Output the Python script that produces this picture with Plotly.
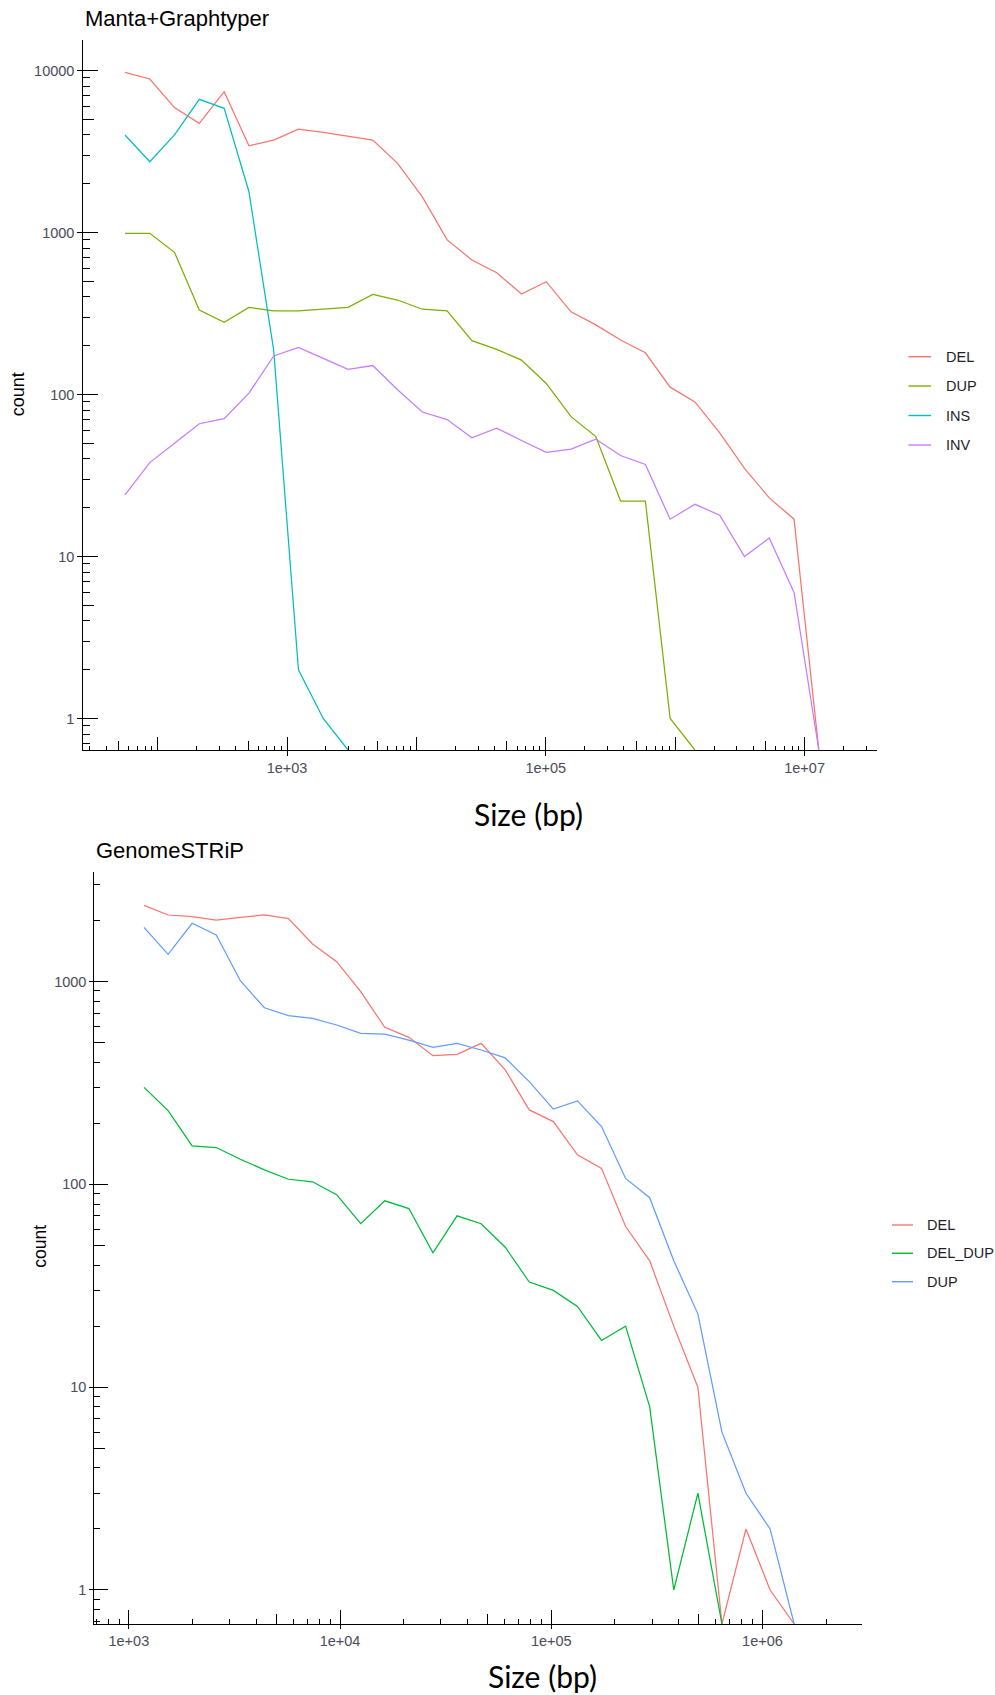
import math
import plotly.graph_objects as go

W, H = 995, 1695

# ---------------- Manta+Graphtyper : SV counts per log-spaced size bin ----------------
mg_size = [56, 87, 135, 210, 327, 508, 789, 1226, 1905, 2961, 4603, 7154, 11117, 17280,
           26853, 41735, 64863, 100810, 156675, 243500, 378440, 588160, 914100, 1420650,
           2208000, 3431000, 5333000, 8288000, 12880000]
mg_del = [9750, 8860, 5900, 4720, 7400, 3430, 3720, 4340, 4150, 3940, 3720, 2670, 1660, 900,
          677, 565, 417, 497, 324, 269, 217, 181, 111, 90, 58, 35, 23, 17, 0]
mg_dup = [989, 989, 755, 332, 279, 345, 328, 328, 337, 345, 415, 383, 336, 328, 215, 190,
          163, 117, 73, 55, 22, 22, 1, 0]
mg_ins = [4000, 2735, 4000, 6640, 5845, 1786, 188, 2, 1, 0]
mg_inv = [24, 38, 50, 66, 71, 102, 173, 195, 167, 143, 151, 107, 78, 70, 54, 62, 52, 44, 46,
          53, 42, 37, 17, 21, 18, 10, 13, 6, 0]

# ---------------- GenomeSTRiP ----------------
gs_size = [1180, 1534, 1994, 2593, 3372, 4383, 5698, 7409, 9636, 12528, 16287, 21177, 27540,
           35810, 46560, 60540, 78700, 102330, 133070, 173000, 224950, 292500, 380300, 494600,
           643000, 835900, 1087000, 1413000]
gs_del = [2378, 2130, 2089, 2012, 2076, 2130, 2043, 1532, 1253, 892, 595, 531, 431, 438, 496,
          367, 233, 204, 140, 120, 62, 42, 20, 10, 0, 2, 1, 0]
gs_del_dup = [301, 231, 155, 152, 133, 118, 106, 103, 89, 64, 83, 76, 46, 70, 64, 49, 33, 30,
              25, 17, 20, 8, 1, 3, 0]
gs_dup = [1852, 1363, 1939, 1698, 1010, 743, 679, 659, 611, 556, 551, 515, 474, 496, 460, 421,
          321, 235, 258, 193, 107, 86, 42, 23, 6, 3, 2, 0]

top_series = [("DEL", mg_del, "#F8766D"), ("DUP", mg_dup, "#7CAE00"),
              ("INS", mg_ins, "#00BFC4"), ("INV", mg_inv, "#C77CFF")]
bot_series = [("DEL", gs_del, "#F8766D"), ("DEL_DUP", gs_del_dup, "#00BA38"),
              ("DUP", gs_dup, "#619CFF")]

# axis ranges (log10 units)
TOP_X = [1.4258, 7.5595]
TOP_Y = [-0.1944, 4.1883]
BOT_X = [2.8364, 6.4728]
BOT_Y = [-0.1677, 3.5419]

# plot areas in pixels: (left, top, right, bottom)
TOP_BOX = (83.3, 40.0, 877.0, 750.0)
BOT_BOX = (94.3, 871.7, 862.3, 1624.0)

ARIAL = "Liberation Sans, Arial, sans-serif"
TICK_GREY = "#4b4b5a"


def px_x(p):
    return p / W


def px_y(p):
    return 1 - p / H


def decades(rng):
    return [10.0 ** k for k in range(math.floor(rng[0]), math.ceil(rng[1]) + 1)
            if rng[0] <= k <= rng[1]]


def subticks(rng, mults):
    out = []
    for k in range(math.floor(rng[0]) - 1, math.ceil(rng[1]) + 1):
        for m in mults:
            v = m * 10.0 ** k
            if rng[0] <= math.log10(v) <= rng[1]:
                out.append(v)
    return out


def fmt_sci(v):
    return "1e+%02d" % round(math.log10(v))


def fmt_plain(v):
    return "%g" % v


fig = go.Figure()

for name, vals, col in top_series:
    floor = 10 ** TOP_Y[0]
    fig.add_trace(go.Scatter(
        x=mg_size[:len(vals)], y=[v if v > 0 else floor for v in vals],
        mode="lines", name=name, line=dict(color=col, width=1.25),
        xaxis="x", yaxis="y", showlegend=False))

for name, vals, col in bot_series:
    floor = 10 ** BOT_Y[0]
    fig.add_trace(go.Scatter(
        x=gs_size[:len(vals)], y=[v if v > 0 else floor for v in vals],
        mode="lines", name=name, line=dict(color=col, width=1.25),
        xaxis="x2", yaxis="y2", showlegend=False))


def axis_set(rng, domain, anchor, over, labelled, fmt, out_len, mid_len, dec_len, short_len):
    """Three stacked log axes sharing one scale:
    P  - axis line, inside decade ticks and short inside minor ticks
    A  - labels with the short outside stub at labelled decades
    B  - medium inside ticks at the x5 positions"""
    base = dict(type="log", range=rng, showgrid=False, zeroline=False, tickwidth=1,
                tickcolor="black", tickmode="array")
    P = dict(base, domain=domain, anchor=anchor, showline=True, linecolor="black",
             linewidth=1, ticks="inside", ticklen=dec_len, tickvals=decades(rng),
             showticklabels=False,
             minor=dict(ticks="inside", ticklen=short_len, tickwidth=1, tickcolor="black",
                        tickmode="array", tickvals=subticks(rng, [2, 3, 4, 6, 7, 8, 9]),
                        showgrid=False))
    A = dict(base, anchor=anchor, overlaying=over, showline=False, ticks="outside",
             ticklen=out_len, tickvals=labelled, ticktext=[fmt(v) for v in labelled],
             tickfont=dict(family=ARIAL, size=14.5, color=TICK_GREY))
    B = dict(base, anchor=anchor, overlaying=over, showline=False, ticks="inside",
             ticklen=mid_len, tickvals=subticks(rng, [5]), showticklabels=False)
    return P, A, B


tx_dom = [px_x(TOP_BOX[0]), px_x(TOP_BOX[2])]
ty_dom = [px_y(TOP_BOX[3]), px_y(TOP_BOX[1])]
bx_dom = [px_x(BOT_BOX[0]), px_x(BOT_BOX[2])]
by_dom = [px_y(BOT_BOX[3]), px_y(BOT_BOX[1])]

x1, x3, x5 = axis_set(TOP_X, tx_dom, "y", "x", [1e3, 1e5, 1e7], fmt_sci, 5, 9, 13, 4)
y1, y3, y5 = axis_set(TOP_Y, ty_dom, "x", "y", decades(TOP_Y), fmt_plain, 5, 11, 15, 6.5)
x2, x4, x6 = axis_set(BOT_X, bx_dom, "y2", "x2", decades(BOT_X), fmt_sci, 4, 10, 14, 5)
y2, y4, y6 = axis_set(BOT_Y, by_dom, "x2", "y2", decades(BOT_Y), fmt_plain, 4, 11, 14, 6)

for a in (x3, x5, x4, x6):
    a["side"] = "bottom"
for a in (y3, y5, y4, y6):
    a["side"] = "left"

# transparent anchor points so the stacked tick axes are rendered
for xa, ya, xr, yr in (("x3", "y3", TOP_X, TOP_Y), ("x5", "y5", TOP_X, TOP_Y),
                       ("x4", "y4", BOT_X, BOT_Y), ("x6", "y6", BOT_X, BOT_Y)):
    fig.add_trace(go.Scatter(x=[10 ** (sum(xr) / 2)], y=[10 ** (sum(yr) / 2)],
                             mode="markers", marker=dict(opacity=0, size=1),
                             hoverinfo="skip", showlegend=False, xaxis=xa, yaxis=ya))

annotations = [
    dict(text="Manta+Graphtyper", x=px_x(83.3), y=px_y(18.5), xanchor="left", yanchor="middle",
         font=dict(family=ARIAL, size=22, color="black")),
    dict(text="GenomeSTRiP", x=px_x(94.3), y=px_y(850.8), xanchor="left", yanchor="middle",
         font=dict(family=ARIAL, size=22, color="black")),
    dict(text="count", x=px_x(18.7), y=px_y(394.5), textangle=-90, xanchor="center",
         yanchor="middle", font=dict(family=ARIAL, size=18, color="black")),
    dict(text="count", x=px_x(40.0), y=px_y(1246.7), textangle=-90, xanchor="center",
         yanchor="middle", font=dict(family=ARIAL, size=17.5, color="black")),
    dict(text="Size (bp)", x=px_x(528.6), y=px_y(814.0), xanchor="center", yanchor="middle",
         font=dict(family="Lato, sans-serif", size=30, color="black")),
    dict(text="Size (bp)", x=px_x(542.6), y=px_y(1676.2), xanchor="center", yanchor="middle",
         font=dict(family="Lato, sans-serif", size=30, color="black")),
]

shapes = []


def add_legend(entries, ys, x0, x1_, xt):
    for (name, _, col), yy in zip(entries, ys):
        shapes.append(dict(type="line", xref="paper", yref="paper", x0=px_x(x0), x1=px_x(x1_),
                           y0=px_y(yy), y1=px_y(yy), line=dict(color=col, width=1.4)))
        annotations.append(dict(text=name, x=px_x(xt), y=px_y(yy), xanchor="left",
                                yanchor="middle", showarrow=False,
                                font=dict(family=ARIAL, size=14.5, color="#1e1e2a")))


add_legend(top_series, [356.7, 386.0, 415.5, 445.0], 908.4, 931.1, 944.4)
add_legend(bot_series, [1225.0, 1253.3, 1281.7], 892.0, 913.0, 925.0)

for a in annotations:
    a.setdefault("showarrow", False)
    a.update(xref="paper", yref="paper")

fig.update_layout(
    width=W, height=H, autosize=False,
    margin=dict(l=0, r=0, t=0, b=0),
    paper_bgcolor="white", plot_bgcolor="white",
    showlegend=False,
    xaxis=x1, yaxis=y1, xaxis3=x3, yaxis3=y3, xaxis5=x5, yaxis5=y5,
    xaxis2=x2, yaxis2=y2, xaxis4=x4, yaxis4=y4, xaxis6=x6, yaxis6=y6,
    annotations=annotations, shapes=shapes,
)

fig.write_html("out.html")
